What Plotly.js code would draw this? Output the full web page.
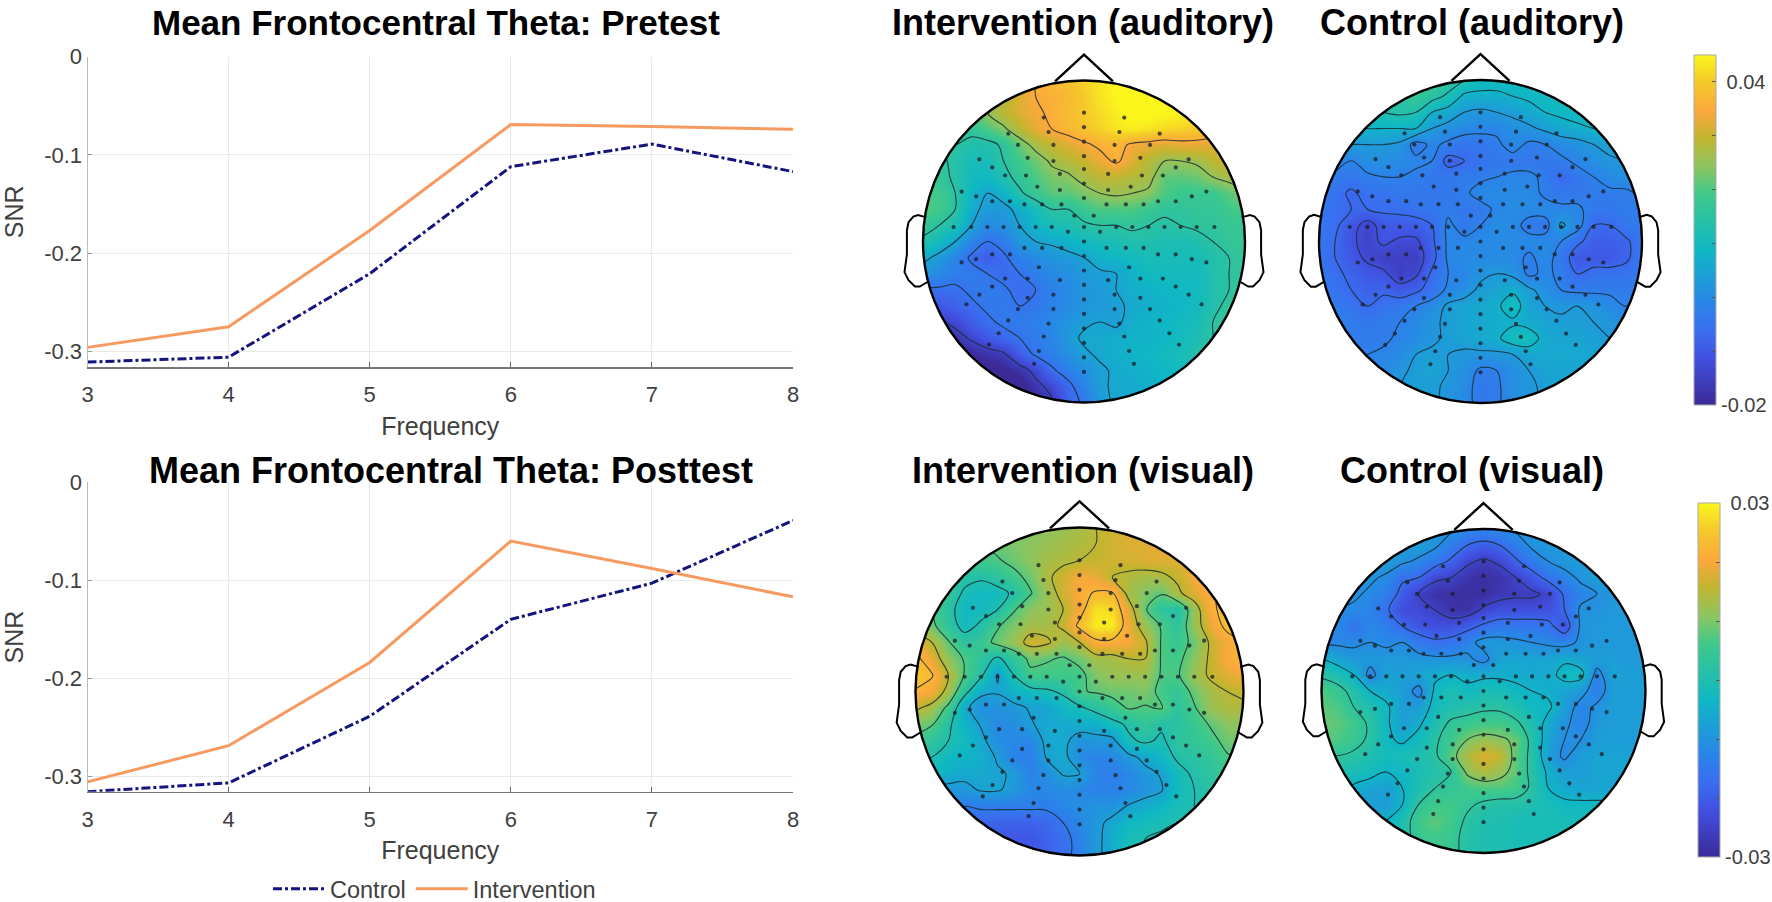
<!DOCTYPE html>
<html>
<head>
<meta charset="utf-8">
<script src="https://cdn.plot.ly/plotly-3.0.1.min.js"></script>
<style>
html, body { margin: 0; padding: 0; background: #fff; }
#chart { width: 1772px; height: 902px; }
</style>
</head>
<body>
<div id="chart"></div>
<script>
// ---- Line chart data ----
const frequency = [3, 4, 5, 6, 7, 8];
const preControl = [-0.311, -0.306, -0.221, -0.112, -0.089, -0.117];
const preIntervention = [-0.296, -0.275, -0.177, -0.069, -0.071, -0.074];
const postControl = [-0.316, -0.307, -0.239, -0.140, -0.103, -0.039];
const postIntervention = [-0.306, -0.269, -0.184, -0.060, -0.088, -0.117];
const snrTicks = [-0.3, -0.2, -0.1, 0];
const snrTickText = ['-0.3', '-0.2', '-0.1', '0'];

// ---- Scalp maps: rows run front to back (+100 to -100), columns left to right, values x 1000 ----
const gridAxis = [-100,-90,-80,-70,-60,-50,-40,-30,-20,-10,0,10,20,30,40,50,60,70,80,90,100];
const gridAxisY = gridAxis.slice().reverse();

const interventionAuditory = [
  [18,18,20,22,24,28,31,35,37,39,41,43,45,46,46,46,45,44,43,42,40],
  [18,18,20,22,24,28,32,35,36,37,40,43,45,46,46,46,45,44,43,42,40],
  [18,18,19,21,25,29,32,34,36,38,40,42,44,46,46,45,45,44,42,41,40],
  [16,16,17,17,20,24,29,33,35,37,39,41,43,44,43,42,41,40,39,38,37],
  [15,15,15,13,13,16,22,27,30,32,34,36,37,34,33,32,33,33,32,31,30],
  [17,16,14,11,11,15,19,22,26,28,30,33,36,32,28,25,25,26,29,31,31],
  [19,17,14,10,9,13,17,20,23,24,27,29,29,28,27,21,21,22,25,27,28],
  [20,19,15,9,5,8,14,18,21,21,23,25,26,25,24,20,18,18,18,21,24],
  [21,19,15,7,3,3,7,11,15,15,18,20,20,20,18,16,16,17,17,19,20],
  [17,15,12,5,0,1,5,9,11,12,14,15,15,16,15,14,15,16,16,17,18],
  [14,10,5,-1,-5,-3,3,5,6,8,10,11,12,13,13,12,12,13,15,17,18],
  [7,3,-1,-6,-9,-6,-2,0,2,3,5,8,9,10,11,11,11,11,13,15,17],
  [2,0,-3,-3,-5,-7,-5,-2,0,1,3,4,5,8,10,10,10,10,13,15,17],
  [-6,-6,-6,-4,-3,-4,-7,-5,-2,0,2,3,5,7,8,9,9,10,13,15,17],
  [-10,-10,-8,-6,-4,-3,-5,-4,-2,0,2,3,4,6,7,8,9,10,13,17,19],
  [-16,-16,-13,-9,-6,-4,-3,-2,0,2,4,5,4,7,8,9,10,11,15,18,20],
  [-20,-20,-18,-14,-10,-7,-5,-3,-1,3,6,6,7,8,8,9,10,12,15,18,20],
  [-22,-22,-22,-20,-18,-16,-9,-4,-2,1,4,6,7,8,9,10,11,14,16,18,20],
  [-22,-22,-22,-22,-22,-21,-18,-13,-6,-2,1,4,6,7,8,9,10,12,13,14,15],
  [-22,-22,-22,-22,-22,-22,-22,-17,-13,-7,-1,4,6,6,7,8,9,10,11,12,13],
  [-22,-22,-22,-22,-22,-22,-22,-20,-16,-8,-4,3,6,6,7,8,9,10,11,12,13]
];
const controlAuditory = [
  [14,14,14,14,15,16,17,18,16,13,10,10,10,10,10,10,10,10,10,10,10],
  [14,14,14,15,16,16,17,15,12,7,7,7,8,9,10,11,11,11,11,11,11],
  [9,9,10,12,13,14,13,8,6,3,2,3,4,6,8,9,10,10,10,10,10],
  [7,7,7,8,8,8,8,3,1,0,-1,-1,1,2,4,6,7,8,9,10,10],
  [4,4,3,3,3,2,-4,-1,-3,-5,-4,-3,0,-3,-2,0,1,3,5,6,6],
  [1,0,-2,1,1,0,-1,-2,-9,-7,-5,-4,-4,-4,-4,-3,-1,1,2,3,3],
  [-1,-3,-4,-3,-2,-2,-3,-4,-4,-3,-3,-2,-1,-1,-3,-7,-4,-2,0,1,1],
  [-3,-5,-8,-5,-5,-4,-4,-4,-4,-3,0,0,0,0,-3,-4,-4,-3,-3,-3,-1],
  [-4,-6,-7,-7,-6,-6,-5,-4,-3,-4,-4,-1,0,0,0,-1,-1,-4,-4,-3,-3],
  [-4,-6,-10,-14,-10,-9,-9,-7,-1,-4,-2,1,0,-4,-4,4,0,-7,-7,-4,-3],
  [-4,-7,-11,-14,-11,-13,-13,-8,-1,-1,0,0,0,0,0,-2,-6,-9,-9,-8,-4],
  [-4,-7,-10,-13,-15,-15,-15,-9,-1,0,0,0,0,-3,0,-4,-10,-10,-10,-8,-4],
  [-4,-6,-8,-10,-11,-15,-13,-6,-2,-1,2,3,2,-3,-1,-3,-7,-5,-5,-5,-3],
  [-3,-5,-7,-8,-8,-10,-8,-5,-1,1,4,5,7,4,1,-2,-3,-3,-3,-3,-2],
  [-2,-3,-5,-7,-5,-4,-2,0,4,5,6,7,11,5,3,2,3,2,0,-2,-1],
  [-1,-2,-3,-4,-3,-2,0,2,4,5,6,7,7,6,5,4,4,3,2,1,1],
  [-1,-2,-3,-3,-3,-1,0,2,4,5,6,7,11,11,6,5,5,4,3,2,2],
  [-1,-2,-3,-2,-1,0,3,4,3,2,2,2,3,5,6,6,6,5,4,3,3],
  [-1,-1,-1,-1,0,2,4,5,3,1,-3,-2,1,3,5,5,5,4,4,3,3],
  [-1,-1,-1,0,1,3,4,4,2,0,-4,-3,1,2,4,5,5,4,4,3,3],
  [-1,-1,-1,0,1,3,4,4,2,0,-4,-3,1,2,4,5,5,4,4,3,3]
];
const interventionVisual = [
  [7,7,7,7,7,8,9,10,11,12,13,15,17,18,18,19,19,20,20,20,20],
  [7,7,7,6,7,9,10,11,12,13,14,15,17,18,18,19,19,20,21,21,21],
  [6,6,6,6,6,7,9,11,13,14,15,16,17,17,18,18,18,19,21,21,21],
  [5,5,5,2,1,3,6,9,14,17,20,19,15,14,13,14,16,20,23,24,24],
  [6,6,4,-1,-3,-2,1,7,12,17,21,23,23,13,10,8,14,18,22,24,25],
  [8,7,2,-3,-2,0,7,11,12,15,20,28,27,18,8,3,1,12,21,25,26],
  [11,9,3,-2,1,7,10,13,13,16,24,29,29,19,12,7,3,12,19,24,26],
  [20,15,8,3,5,9,12,17,16,12,15,21,21,20,16,7,5,9,16,20,23],
  [24,19,11,7,3,-1,3,9,8,7,9,13,13,15,15,7,6,11,16,21,23],
  [25,23,15,7,1,-8,0,6,6,6,6,10,12,12,12,7,7,12,16,18,20],
  [22,20,13,2,-6,-7,-4,-2,-1,1,7,8,9,9,10,6,4,9,13,15,16],
  [16,13,6,-6,-11,-10,-9,-7,-7,-3,-1,2,5,8,7,8,3,7,12,14,14],
  [10,8,1,-4,-8,-12,-11,-8,-6,-6,-5,-5,-2,1,4,1,2,5,8,11,11],
  [6,3,0,-2,-6,-11,-12,-12,-6,-6,-10,-9,-9,-1,1,-1,3,4,6,9,10],
  [1,0,-3,-4,-5,-8,-13,-14,-7,-6,-11,-13,-12,-9,-6,-3,1,2,4,7,8],
  [-2,-3,-5,-6,-6,-7,-8,-13,-11,-7,-7,-13,-14,-12,-9,-7,-2,1,3,5,6],
  [-9,-9,-9,-9,-7,-7,-9,-12,-12,-11,-12,-13,-13,-12,-10,-8,-2,0,2,4,5],
  [-12,-12,-12,-15,-14,-14,-14,-14,-14,-12,-11,-10,-10,-7,-5,-3,-1,0,2,3,4],
  [-18,-18,-18,-18,-19,-19,-19,-19,-18,-15,-12,-9,-6,-3,-2,-1,0,0,1,2,3],
  [-20,-20,-20,-20,-20,-21,-21,-21,-19,-17,-13,-9,-5,-1,0,1,1,1,1,2,3],
  [-20,-20,-20,-20,-20,-21,-21,-21,-19,-17,-13,-9,-5,0,0,1,1,1,1,2,3]
];
const controlVisual = [
  [-8,-8,-8,-8,-8,-8,-8,-8,-10,-12,-12,-12,-10,-9,-8,-8,-8,-8,-8,-8,-8],
  [-8,-8,-8,-8,-8,-8,-8,-10,-14,-18,-20,-18,-14,-10,-9,-8,-8,-8,-8,-8,-8],
  [-8,-8,-8,-8,-8,-10,-12,-15,-19,-24,-26,-24,-19,-14,-11,-9,-8,-8,-8,-8,-8],
  [-8,-8,-9,-10,-12,-17,-18,-24,-25,-28,-29,-28,-25,-21,-16,-13,-10,-8,-8,-8,-8],
  [-9,-9,-10,-12,-14,-20,-25,-28,-29,-29,-29,-27,-26,-26,-24,-17,-13,-11,-9,-9,-9],
  [-10,-11,-12,-13,-17,-23,-23,-25,-28,-28,-24,-22,-22,-22,-22,-18,-10,-10,-9,-9,-9],
  [-11,-12,-16,-12,-14,-18,-21,-22,-22,-20,-17,-15,-15,-15,-16,-22,-10,-9,-9,-9,-9],
  [-12,-12,-12,-11,-12,-11,-15,-17,-16,-13,-9,-9,-10,-11,-12,-13,-10,-9,-9,-9,-9],
  [-4,-7,-9,-9,-9,-9,-9,-10,-10,-10,-13,-7,-7,-7,-7,-5,-7,-8,-8,-9,-9],
  [2,0,-4,-13,-7,-8,-7,-5,-4,-5,-5,-5,-5,-6,-6,-2,-2,-13,-7,-8,-8],
  [7,5,1,-4,-6,-8,-13,-3,0,-3,-1,-1,-3,-4,-5,-7,-9,-14,-8,-8,-8],
  [8,7,3,0,-3,-8,-8,-2,0,1,2,2,0,-3,-3,-8,-13,-10,-8,-8,-8],
  [9,8,6,2,-3,-8,-5,0,4,5,6,6,4,0,-6,-10,-13,-9,-8,-8,-8],
  [8,7,5,2,-3,-5,-2,2,6,10,12,11,9,1,-7,-11,-11,-8,-8,-8,-8],
  [3,3,2,0,-2,-1,0,2,8,14,18,16,8,1,-8,-12,-8,-7,-7,-7,-7],
  [1,0,-1,-2,-4,-3,-1,1,3,11,14,12,8,1,-5,-8,-8,-7,-7,-7,-7],
  [0,-1,-5,-7,-8,-4,0,3,4,6,7,7,6,2,-4,-6,-7,-7,-7,-7,-7],
  [-1,-2,-7,-8,-8,-4,3,6,6,4,2,1,1,0,-1,-3,-3,-3,-3,-3,-3],
  [-5,-6,-7,-8,-4,0,6,8,6,2,0,0,-1,-1,-1,-1,-2,-2,-2,-2,-2],
  [-3,-3,-3,-3,-2,1,5,6,5,1,0,0,-1,-1,-1,-1,-1,-1,-1,-1,-1],
  [-3,-3,-3,-3,-2,1,5,6,5,1,0,0,-1,-1,-1,-1,-1,-1,-1,-1,-1]
];

// ---- Electrodes, in percent of head radius. Side pairs are mirrored ----
const electrodeSideX = [25,22,47,19,41,35,65,19,57,15,36,49,29,15,76,67,46,57,26,37,14,6,20,30,40,50,60,70,81,10,14,26,37,46,57,67,76,28,35,49,15,57,19,65,35,73,19,41,47,22,53,25,59,28,31];
const electrodeSideY = [77,68,67,60,60,52,51,50,46,42,41,41,34,32,31,28,25,25,23,23,23,16,9,9,9,9,9,9,9,6,-4,-4,-4,-8,-8,-11,-13,-16,-23,-23,-24,-28,-33,-33,-35,-39,-42,-42,-49,-51,-57,-59,-64,-68,-76];
const electrodeMidY = [80,71,62,53,45,36,27,9,0,-9,-18,-27,-36,-45,-54,-63,-72,-81];

// ---- Page geometry, in pixels ----
const W = 1772, H = 902;
const HALF = 120; // head axes run -120..120
const heads = [
  { name: 'Intervention (auditory)', z: interventionAuditory, cx: 1084, cy: 241.5, r: 161, zmin: -20, zmax: 45, start: -15, end: 35, size: 10, tx: 1083, ty: 22 },
  { name: 'Control (auditory)', z: controlAuditory, cx: 1480.5, cy: 241.5, r: 161.5, zmin: -20, zmax: 45, start: -12, end: 18, size: 5, tx: 1472, ty: 22 },
  { name: 'Intervention (visual)', z: interventionVisual, cx: 1079.5, cy: 691.5, r: 164, zmin: -30, zmax: 30, start: -15, end: 22.5, size: 7.5, tx: 1083, ty: 470 },
  { name: 'Control (visual)', z: controlVisual, cx: 1483.5, cy: 691, r: 162, zmin: -30, zmax: 30, start: -25, end: 10, size: 7, tx: 1472, ty: 470 }
];

const parula = [
  [0, '#3b2a98'], [0.132, '#4150e0'], [0.21, '#3a6df0'], [0.29, '#2a85e8'], [0.446, '#0fb8c4'],
  [0.603, '#3fc98a'], [0.68, '#8cc560'], [0.765, '#c4b52e'], [0.838, '#fba83c'], [0.92, '#f5c82b'], [1, '#faf61c']
];

function fx(px){ return px / W; }
function fy(px){ return 1 - px / H; }

function pathFrom(xs, ys){
  return xs.map((x,i)=> (i ? 'L' : 'M') + x + ',' + ys[i]).join(' ');
}

// white sheet with a round hole: trims the square map to the head
function maskPath(){
  const xs = [], ys = [];
  for(let a = 0; a < 360; a += 2){
    xs.push(100*Math.cos(a*Math.PI/180));
    ys.push(100*Math.sin(a*Math.PI/180));
  }
  return `M${-HALF},${-HALF} L${HALF},${-HALF} L${HALF},${HALF} L${-HALF},${HALF} Z ` + pathFrom(xs, ys) + ' Z';
}

const earX = [98,103,106,109,110,110,111.5,109,105,102,97];
const earY = [15,16.5,15.5,12,7,-8,-19,-24,-28,-28,-25];

const traces = [];
const shapes = [];
const layout = {
  width: W, height: H,
  margin: { l: 0, r: 0, t: 0, b: 0, autoexpand: false },
  paper_bgcolor: '#fff', plot_bgcolor: '#fff',
  font: { family: '"Liberation Sans", Arial, sans-serif', color: '#404040' },
  showlegend: true,
  legend: {
    orientation: 'h', x: fx(268), y: fy(867), xanchor: 'left', yanchor: 'top',
    font: { size: 23.5, color: '#404040' }, itemwidth: 52, bgcolor: 'rgba(0,0,0,0)', tracegroupgap: 0
  },
  annotations: [],
  shapes
};

// ---- Line panels ----
const linePanels = [
  { title: 'Mean Frontocentral Theta: Pretest', control: preControl, intervention: preIntervention, top: 56.7, bottom: 367, tx: 436, ty: 22 },
  { title: 'Mean Frontocentral Theta: Posttest', control: postControl, intervention: postIntervention, top: 482.3, bottom: 791.7, tx: 451, ty: 470 }
];

linePanels.forEach((p, i)=>{
  const n = i ? String(i+1) : '';
  traces.push({ type: 'scatter', mode: 'lines', name: 'Control', x: frequency, y: p.control, xaxis: 'x'+n, yaxis: 'y'+n,
    line: { color: '#14147f', width: 3, dash: 'dashdot' }, showlegend: i === 1, cliponaxis: false });
  traces.push({ type: 'scatter', mode: 'lines', name: 'Intervention', x: frequency, y: p.intervention, xaxis: 'x'+n, yaxis: 'y'+n,
    line: { color: '#f79a5f', width: 3 }, showlegend: i === 1, cliponaxis: false });
  layout['xaxis'+n] = {
    domain: [fx(87.5), fx(793)], range: [3, 8], anchor: 'y'+n,
    tickvals: frequency, ticks: 'inside', ticklen: 5, tickcolor: '#666', tickfont: { size: 22, color: '#404040' }, ticklabelstandoff: 7,
    showgrid: true, gridcolor: '#e9e9e9', showline: true, linecolor: '#777', linewidth: 1.5, zeroline: false,
    title: { text: 'Frequency', font: { size: 25, color: '#404040' }, standoff: 11 }
  };
  layout['yaxis'+n] = {
    domain: [fy(p.bottom), fy(p.top)], range: [-0.316, 0], anchor: 'x'+n,
    tickvals: snrTicks, ticktext: snrTickText, ticks: 'inside', ticklen: 4, tickcolor: '#999', tickfont: { size: 22, color: '#404040' },
    showgrid: true, gridcolor: '#e9e9e9', showline: true, linecolor: '#bbb', linewidth: 1, zeroline: false,
    title: { text: 'SNR', font: { size: 25, color: '#404040' }, standoff: 13 }
  };
  layout.annotations.push({ text: '<b>'+p.title+'</b>', xref: 'paper', yref: 'paper', x: fx(p.tx), y: fy(p.ty),
    xanchor: 'center', yanchor: 'middle', showarrow: false, font: { size: i ? 36 : 35, color: '#000' } });
});

// ---- Scalp panels ----
const dotX = [], dotY = [];
electrodeSideX.forEach((x,i)=>{ dotX.push(x, -x); dotY.push(electrodeSideY[i], electrodeSideY[i]); });
electrodeMidY.forEach(y=>{ dotX.push(0); dotY.push(y); });

heads.forEach((h, i)=>{
  const n = String(i+3);
  const half = h.r * HALF / 100;
  traces.push({
    type: 'contour', x: gridAxis, y: gridAxisY, z: h.z, xaxis: 'x'+n, yaxis: 'y'+n,
    zmin: h.zmin, zmax: h.zmax, zauto: false, colorscale: parula, showscale: false,
    autocontour: false, contours: { coloring: 'heatmap', start: h.start, end: h.end, size: h.size, showlabels: false },
    line: { color: 'rgba(25,45,50,0.85)', width: 1.1, smoothing: 1 }, showlegend: false, hoverinfo: 'skip'
  });
  traces.push({
    type: 'scatter', mode: 'markers', x: dotX, y: dotY, xaxis: 'x'+n, yaxis: 'y'+n,
    marker: { size: 4.2, color: 'rgba(25,30,40,0.75)' }, showlegend: false, hoverinfo: 'skip'
  });
  layout['xaxis'+n] = { domain: [fx(h.cx-half), fx(h.cx+half)], range: [-HALF, HALF], anchor: 'y'+n, visible: false };
  layout['yaxis'+n] = { domain: [fy(h.cy+half), fy(h.cy-half)], range: [-HALF, HALF], anchor: 'x'+n, visible: false };

  const ref = { xref: 'x'+n, yref: 'y'+n };
  const ink = { color: '#000', width: 2.4 };
  shapes.push({ ...ref, type: 'path', path: maskPath(), fillcolor: '#fff', fillrule: 'evenodd', line: { width: 0 }, layer: 'above' });
  shapes.push({ ...ref, type: 'path', path: pathFrom(earX, earY), line: { ...ink, width: 2 }, layer: 'above' });
  shapes.push({ ...ref, type: 'path', path: pathFrom(earX.map(x=>-x), earY), line: { ...ink, width: 2 }, layer: 'above' });
  shapes.push({ ...ref, type: 'path', path: pathFrom([-18,0,18],[99.5,116,99.5]), line: ink, layer: 'above' });
  shapes.push({ ...ref, type: 'circle', x0: -100, x1: 100, y0: -100, y1: 100, line: ink, layer: 'above' });

  layout.annotations.push({ text: '<b>'+h.name+'</b>', xref: 'paper', yref: 'paper', x: fx(h.tx), y: fy(h.ty),
    xanchor: 'center', yanchor: 'middle', showarrow: false, font: { size: 36, color: '#000' } });
});

// ---- Colour bars: heatmaps parked outside the axis range, only the scale shows ----
function colorBarTrace(axisN, zmin, zmax, tickvals, ticktext, left, top, bottom){
  return {
    type: 'heatmap', z: [[zmin, zmax]], x: [300, 301], y: [300], xaxis: 'x'+axisN, yaxis: 'y'+axisN,
    zmin, zmax, colorscale: parula, hoverinfo: 'skip', showlegend: false,
    colorbar: {
      x: fx(left), xanchor: 'left', xpad: 0, ypad: 0, y: fy((top+bottom)/2), yanchor: 'middle',
      len: (bottom-top)/H, lenmode: 'fraction', thickness: 22, thicknessmode: 'pixels',
      tickmode: 'array', tickvals, ticktext, ticks: 'inside', ticklen: 4, tickcolor: '#555',
      tickfont: { size: 20, color: '#404040' }, outlinecolor: '#aaa', outlinewidth: 1, bgcolor: 'rgba(0,0,0,0)', borderwidth: 0
    }
  };
}
traces.push(colorBarTrace(4, -20, 45, [-20,-10,0,10,20,30,40], ['-0.02','','','','','','\u00a00.04'], 1694, 55, 405));
traces.push(colorBarTrace(6, -30, 30, [-30,-20,-10,0,10,20,30], ['-0.03','','','','','','\u00a00.03'], 1698, 503, 857));

Plotly.newPlot('chart', traces, layout, { staticPlot: true, displayModeBar: false });
</script>
</body>
</html>
